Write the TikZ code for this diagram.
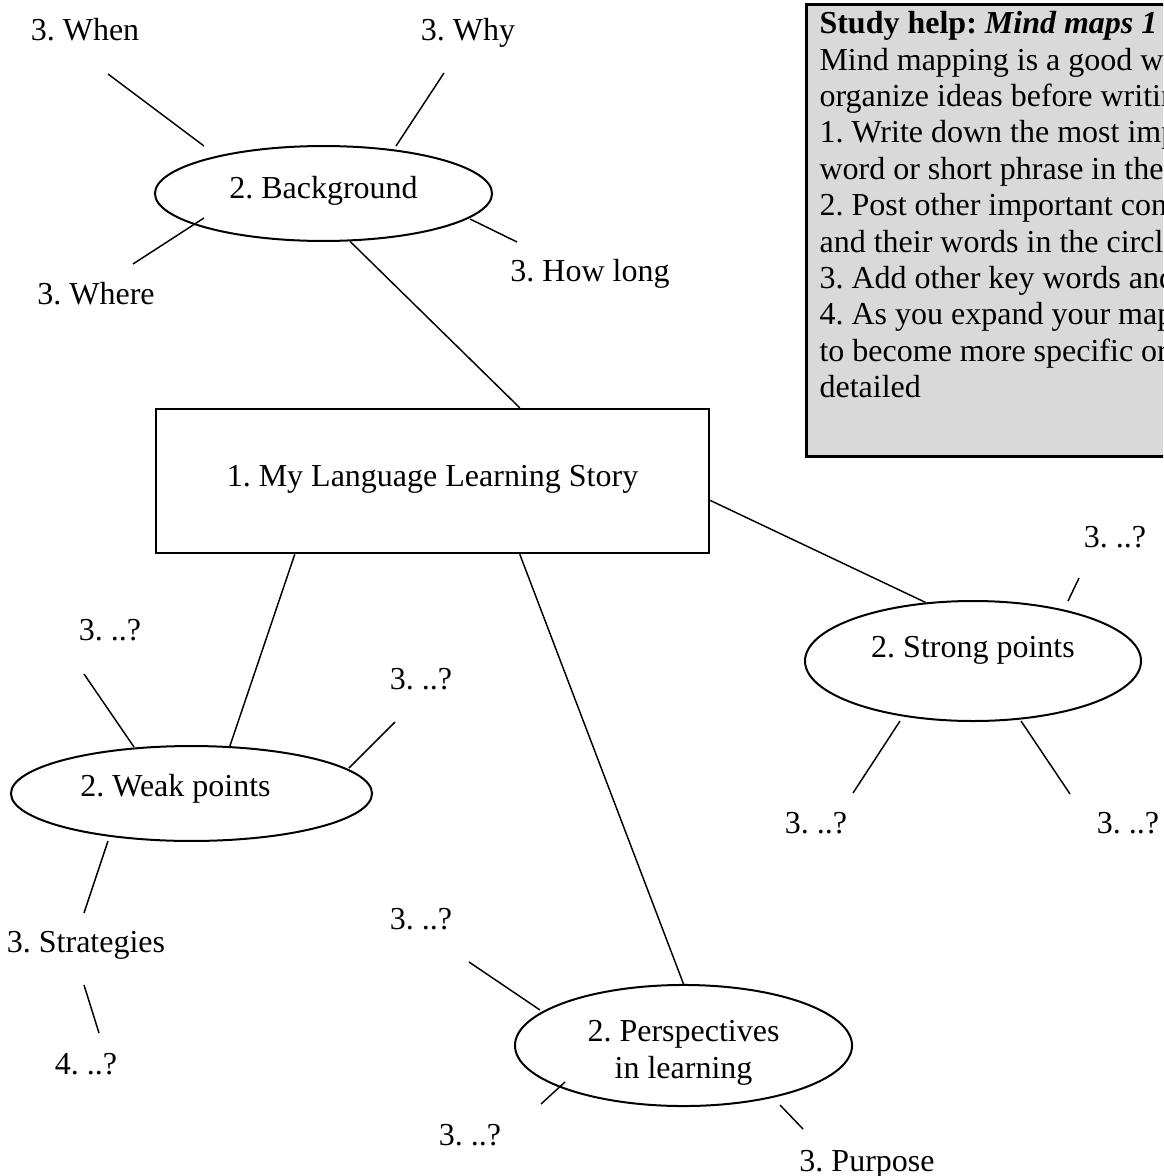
\documentclass[tikz,border=0pt]{standalone}
\usepackage{fontspec}
\setmainfont{Liberation Serif}
\usetikzlibrary{positioning, shapes.geometric}
\definecolor{helpgray}{RGB}{217,217,217}
\frenchspacing

\begin{document}
\begin{tikzpicture}[
			x = 0.375pt, y = -0.375pt,
			font = \fontsize{12}{13.65}\selectfont,
			topic/.style = {rectangle, draw, line width = 0.9pt, inner sep = 0pt, text height = 8.2pt, text depth = 4.4pt, minimum width = 207.4pt, minimum height = 54pt},
			branch/.style = {ellipse, draw, line width = 0.75pt, inner sep = 0pt, align = center},
			leaf/.style = {anchor = base, inner sep = 0pt},
			spoke/.style = {line width = 0.55pt},
			helpbox/.style = {rectangle, draw, line width = 1pt, fill = helpgray, anchor = north west, minimum width = 240pt, minimum height = 169.5pt},
		]
		\useasboundingbox (0,0) rectangle (1163,1176);
		\clip (0,0) rectangle (1163,1176);

		% study help panel
		\node[helpbox](help) at (805,3){};
		\node[anchor = north west, inner sep = 0pt, align = left](helptext) at (819,11){%
			\textbf{Study help:} \textbf{\textit{Mind maps 1}}\\
			Mind mapping is a good w\\
			organize ideas before writin\\
			1. Write down the most imp\\
			word or short phrase in the\\
			2. Post other important con\\
			and their words in the circl\\
			3. Add other key words and\\
			4. As you expand your map\\
			to become more specific or\\
			detailed};

		% main topic and branches
		\node[topic](main) at (432.5,481){1. My Language Learning Story};
		\node[branch, text height = 8.2pt, text depth = 4.8pt, minimum width = 126.4pt, minimum height = 35.6pt](bg) at (323.5,193.5){2. Background};
		\node[branch, text height = 8.2pt, text depth = 6pt, minimum width = 135.4pt, minimum height = 35.6pt](weak) at (191.5,793.5){2. Weak points\hspace*{12pt}};
		\node[branch, text height = 8.2pt, text depth = 11.2pt, minimum width = 126pt, minimum height = 45pt](strong) at (973,661){2. Strong points};
		\node[branch, minimum width = 126.4pt, minimum height = 45.4pt](persp) at (683.5,1045.5){\rule{0pt}{13.5pt}2. Perspectives\\in learning};

		% leaves
		\node[leaf](when) at (85,41){3. When};
		\node[leaf](why) at (468,41){3. Why};
		\node[leaf](where) at (96,304){3. Where};
		\node[leaf](howlong) at (590,282){3. How long};
		\node[leaf](weakTL) at (110,640){3. ..?};
		\node[leaf](weakR) at (421,689){3. ..?};
		\node[leaf](strategies) at (86,952){3. Strategies};
		\node[leaf](stratSub) at (86,1074){4. ..?};
		\node[leaf](perspTL) at (421,929){3. ..?};
		\node[leaf](perspBL) at (470,1145){3. ..?};
		\node[leaf](purpose) at (867,1171){3. Purpose};
		\node[leaf](strongTR) at (1115,547){3. ..?};
		\node[leaf](strongBL) at (816,833){3. ..?};
		\node[leaf](strongBR) at (1128,833){3. ..?};

		% spoke ends
		\coordinate (whenA) at (108,74);      \coordinate (whenB) at (204,146);
		\coordinate (whyA) at (444,73);       \coordinate (whyB) at (396,146);
		\coordinate (whereA) at (204,218);    \coordinate (whereB) at (133,264);
		\coordinate (howlongA) at (470,219);  \coordinate (howlongB) at (517,242);
		\coordinate (weakTLA) at (84,674);    \coordinate (weakTLB) at (134,747);
		\coordinate (weakRA) at (395,722);    \coordinate (weakRB) at (349,768);
		\coordinate (weakBA) at (108,841);    \coordinate (weakBB) at (84,913);
		\coordinate (stratA) at (84,985);     \coordinate (stratB) at (99,1033);
		\coordinate (strongTRA) at (1079,578); \coordinate (strongTRB) at (1068,601);
		\coordinate (strongBLA) at (900,721); \coordinate (strongBLB) at (853,793);
		\coordinate (strongBRA) at (1021,721); \coordinate (strongBRB) at (1070,794);
		\coordinate (perspTLA) at (469,962);  \coordinate (perspTLB) at (540,1010);
		\coordinate (perspBLA) at (565,1082); \coordinate (perspBLB) at (541,1104);
		\coordinate (perspBRA) at (780,1105); \coordinate (perspBRB) at (803,1129);

		\draw[spoke](bg.-61.5)--(main.40.4);
		\draw[spoke](main.-152)--(weak.51.9);
		\draw[spoke](main.-40.4)--(persp.north);
		\draw[spoke](main.-4.96)--(strong.129.2);

		\draw[spoke](whenA)--(whenB);
		\draw[spoke](whyA)--(whyB);
		\draw[spoke](whereA)--(whereB);
		\draw[spoke](howlongA)--(howlongB);
		\draw[spoke](weakTLA)--(weakTLB);
		\draw[spoke](weakRA)--(weakRB);
		\draw[spoke](weakBA)--(weakBB);
		\draw[spoke](stratA)--(stratB);
		\draw[spoke](strongTRA)--(strongTRB);
		\draw[spoke](strongBLA)--(strongBLB);
		\draw[spoke](strongBRA)--(strongBRB);
		\draw[spoke](perspTLA)--(perspTLB);
		\draw[spoke](perspBLA)--(perspBLB);
		\draw[spoke](perspBRA)--(perspBRB);

	\end{tikzpicture}
\end{document}
